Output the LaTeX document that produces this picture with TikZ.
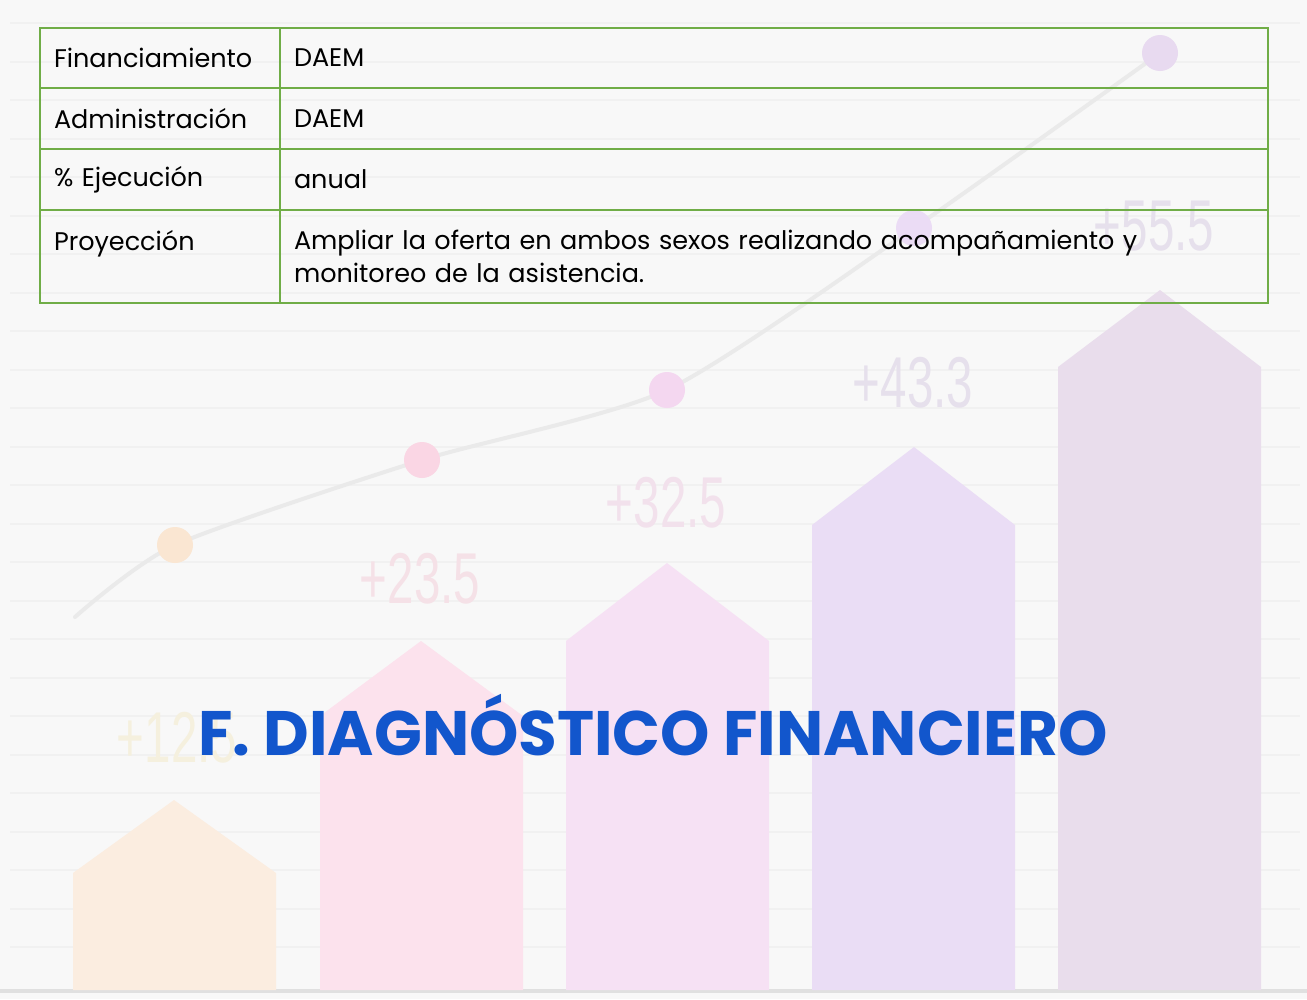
\documentclass[tikz,border=0pt]{standalone}
\usepackage{fontspec}
\setmainfont{Poppins}
\newfontfamily\gainfont[FakeStretch=0.66]{Liberation Sans}
\usetikzlibrary{positioning}
\definecolor{tablegreen}{RGB}{112,173,71}
\definecolor{titleblue}{RGB}{18,86,204}
\definecolor{bggray}{RGB}{248,248,248}
\definecolor{stripegray}{RGB}{241,241,241}
\definecolor{curvegray}{RGB}{234,234,234}
\definecolor{floorgray}{RGB}{224,224,224}
\definecolor{barorange}{RGB}{251,237,224}
\definecolor{barpink}{RGB}{252,226,237}
\definecolor{barrose}{RGB}{246,225,244}
\definecolor{barlilac}{RGB}{234,221,245}
\definecolor{barmauve}{RGB}{233,221,236}
\definecolor{dotorange}{RGB}{250,230,210}
\definecolor{dotpink}{RGB}{250,214,228}
\definecolor{dotrose}{RGB}{244,215,240}
\definecolor{dotlilac}{RGB}{235,220,245}
\definecolor{dotmauve}{RGB}{232,218,240}
\definecolor{gainyellow}{RGB}{245,240,222}
\definecolor{gainpink}{RGB}{245,225,231}
\definecolor{gainrose}{RGB}{242,225,236}
\definecolor{gainlilac}{RGB}{230,224,236}

\begin{document}
\begin{tikzpicture}[
        x=1pt, y=-1pt,
        cell/.style={rectangle, draw=tablegreen, line width=2pt, outer sep=0pt, anchor=north west, inner xsep=14pt, inner ysep=0pt, align=left, font=\fontsize{25.5}{33}\selectfont, text=black},
        keycell/.style={cell, minimum width=240pt, text width=212pt},
        valcell/.style={cell, minimum width=988pt, text width=960pt},
        dot/.style={circle, minimum size=36pt, inner sep=0pt},
        gain/.style={anchor=base, font=\gainfont\fontsize{72}{72}\selectfont},
        heading/.style={anchor=base, text=titleblue, font=\bfseries\fontsize{62.8}{64}\selectfont}
    ]
    \useasboundingbox (0,0) rectangle (1307,999);
    \fill[bggray] (0,0) rectangle (1307,999);

    % faint ruled background
    \foreach \y in {23,61.5,...,985}
        \draw[stripegray, line width=2pt] (10,\y) -- (1300,\y);
    \draw[floorgray, line width=4pt] (0,991) -- (1307,991);

    % arrow bars
    \fill[barorange] (73,990) -- (73,873) -- (174,800) -- (276,873) -- (276,990) -- cycle;
    \fill[barpink] (320,990) -- (320,716) -- (421,641) -- (523,716) -- (523,990) -- cycle;
    \fill[barrose] (566,990) -- (566,641) -- (667,563) -- (769,641) -- (769,990) -- cycle;
    \fill[barlilac] (812,990) -- (812,525) -- (914,447) -- (1015,525) -- (1015,990) -- cycle;
    \fill[barmauve] (1058,990) -- (1058,367) -- (1160,290) -- (1261,367) -- (1261,990) -- cycle;

    % gains
    \node[gain, text=gainyellow] (g1) at (177,762) {+12.5};
    \node[gain, text=gainpink] (g2) at (420,603) {+23.5};
    \node[gain, text=gainrose] (g3) at (666,527) {+32.5};
    \node[gain, text=gainlilac] (g4) at (913,407) {+43.3};
    \node[gain, text=gainlilac] (g5) at (1154,250) {+55.5};

    % trend line
    \coordinate (start) at (75,617);
    \coordinate (p1) at (175,545);
    \coordinate (p2) at (422,460);
    \coordinate (p3) at (667,390);
    \coordinate (p4) at (914,228);
    \coordinate (p5) at (1160,53);
    \draw[curvegray, line width=4pt, line cap=round] plot[smooth, tension=0.4] coordinates {(start) (p1) (p2) (p3) (p4) (p5)};
    \node[dot, fill=dotorange] (d1) at (p1) {};
    \node[dot, fill=dotpink] (d2) at (p2) {};
    \node[dot, fill=dotrose] (d3) at (p3) {};
    \node[dot, fill=dotlilac] (d4) at (p4) {};
    \node[dot, fill=dotmauve] (d5) at (p5) {};

    % table
    \node[keycell, minimum height=60pt] (fin) at (40,28) {Financiamiento};
    \node[valcell, minimum height=60pt] (finval) at (fin.north east) {DAEM};
    \node[keycell, minimum height=61pt] (adm) at (fin.south west) {Administración};
    \node[valcell, minimum height=61pt] (admval) at (adm.north east) {DAEM};
    \node[keycell, minimum height=61pt] (eje) at (adm.south west) {\% Ejecución};
    \node[valcell, minimum height=61pt] (ejeval) at (eje.north east) {anual};
    \node[keycell, minimum height=93pt] (pro) at (eje.south west) {Proyección\\~};
    \node[valcell, minimum height=93pt] (proval) at (pro.north east) {Ampliar la oferta en ambos sexos realizando acompañamiento y\\monitoreo de la asistencia.};

    % title
    \node[heading] (title) at (653,755) {F. DIAGNÓSTICO FINANCIERO};
\end{tikzpicture}
\end{document}
